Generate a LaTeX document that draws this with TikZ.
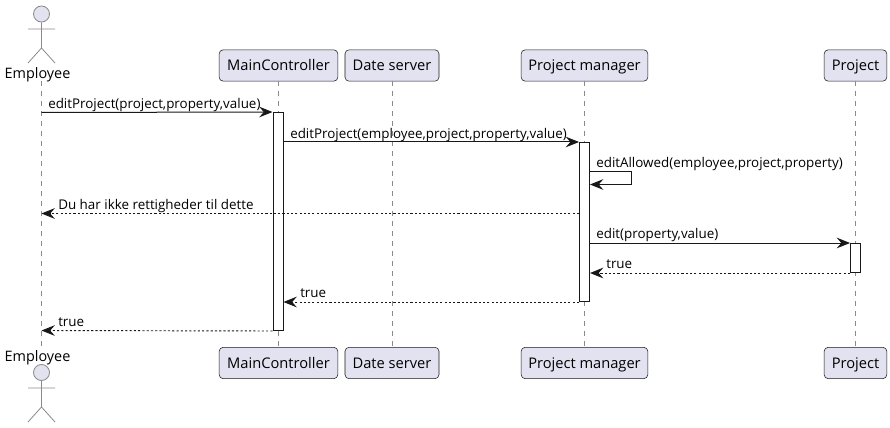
\documentclass[tikz,border=0pt]{standalone}
\usepackage{fontspec}
\setmainfont{Open Sans}
\usetikzlibrary{arrows.meta}
\definecolor{partfill}{HTML}{E2E2F0}
\definecolor{partline}{HTML}{181818}
\definecolor{lifegray}{HTML}{8A8A8A}
\tikzset{
  x=0.75pt,y=-0.75pt,
  part/.style={draw=partline,fill=partfill,rounded corners=3pt,line width=0.4pt,inner sep=0pt,
    minimum height=23.5pt,text height=9pt,text depth=1.5pt,font=\fontsize{11}{13}\selectfont,text=black},
  life/.style={draw=lifegray,line width=0.6pt,dash pattern=on 3.75pt off 3.75pt},
  actorline/.style={draw=lifegray,line width=0.6pt},
  acthead/.style={circle,draw=lifegray,fill=partfill,line width=0.6pt,minimum size=12pt,inner sep=0pt},
  actlabel/.style={font=\fontsize{10.8}{13}\selectfont,text=black,inner sep=0pt},
  activation/.style={draw=partline,fill=white,line width=0.75pt,minimum width=7.5pt,inner sep=0pt},
  msg/.style={draw=partline,line width=0.75pt,-{Stealth[length=10pt,width=8pt,inset=3.5pt]}},
  ret/.style={msg,line width=0.7pt,dash pattern=on 1.6pt off 1.6pt},
  lbl/.style={font=\fontsize{10.05}{12}\selectfont,text=black,inner sep=0pt,anchor=base west},
}
\begin{document}
\begin{tikzpicture}
\useasboundingbox (0,0) rectangle (890,428);
% participants
\node[part,minimum width=89pt] (mcT) at (278.5,65.5) {MainController};
\node[part,minimum width=70.5pt] (dsT) at (392,65.5) {Date server};
\node[part,minimum width=95pt] (pmT) at (584.5,65.5) {Project manager};
\node[part,minimum width=47pt] (prT) at (855.5,65.5) {Project};
\node[part,minimum width=89pt] (mcB) at (278.5,363) {MainController};
\node[part,minimum width=70.5pt] (dsB) at (392,363) {Date server};
\node[part,minimum width=95pt] (pmB) at (584.5,363) {Project manager};
\node[part,minimum width=47pt] (prB) at (855.5,363) {Project};
% actors
\node[actlabel] (empT) at (37.5,75) {Employee};
\node[actlabel] (empB) at (37.5,358) {Employee};
\node[acthead] (headT) at (41.5,14) {};
\node[acthead] (headB) at (41.5,372.5) {};
\coordinate (hipT) at (41.5,48);
\coordinate (armLT) at (28,29);
\coordinate (armRT) at (55,29);
\coordinate (footLT) at (28,63);
\coordinate (footRT) at (55,63);
\coordinate (hipB) at (41.5,407);
\coordinate (armLB) at (28,388);
\coordinate (armRB) at (55,388);
\coordinate (footLB) at (28,422);
\coordinate (footRB) at (55,422);
\draw[actorline] (headT) -- (hipT) (armLT) -- (armRT) (footLT) -- (hipT) -- (footRT);
\draw[actorline] (headB) -- (hipB) (armLB) -- (armRB) (footLB) -- (hipB) -- (footRB);
% lifelines
\coordinate (empTop) at (41.5,81);
\coordinate (empBot) at (41.5,347);
\draw[life] (empTop) -- (empBot);
\draw[life] (mcT) -- (mcB);
\draw[life] (dsT) -- (dsB);
\draw[life] (pmT) -- (pmB);
\draw[life] (prT) -- (prB);
% activations
\node[activation,minimum height=163.5pt] (aMC) at (278,221.5) {};
\node[activation,minimum height=119.25pt] (aPM) at (584.5,222) {};
\node[activation,minimum height=21.75pt] (aPR) at (855.5,258) {};
% anchors on the employee lifeline
\coordinate (e1) at (41.5,112.5);
\coordinate (e2) at (41.5,213.5);
\coordinate (e3) at (41.5,330.5);
\coordinate (s1) at (631.5,172);
\coordinate (s2) at (631.5,184.5);
% messages
\draw[msg] (e1) -- (aMC.north west);
\node[lbl] at (48,108.7) {editProject(project,property,value)};
\draw[msg] (aMC.east |- aPM.north) -- (aPM.north west);
\node[lbl] at (290,138.2) {editProject(employee,project,property,value)};
\draw[msg] (aPM.east |- s1) -- (s1) -- (s2) -- (aPM.east |- s2);
\node[lbl] at (596,167.7) {editAllowed(employee,project,property)};
\draw[ret] (aPM.west |- e2) -- (e2);
\node[lbl] at (58,209.2) {Du har ikke rettigheder til dette};
\draw[msg] (aPM.east |- aPR.north) -- (aPR.north west);
\node[lbl] at (596,238.2) {edit(property,value)};
\draw[ret] (aPR.south west) -- (aPM.east |- aPR.south);
\node[lbl] at (606,268.2) {true};
\draw[ret] (aPM.south west) -- (aMC.east |- aPM.south);
\node[lbl] at (300,297.2) {true};
\draw[ret] (aMC.south west) -- (e3);
\node[lbl] at (58,326.2) {true};
\end{tikzpicture}
\end{document}
